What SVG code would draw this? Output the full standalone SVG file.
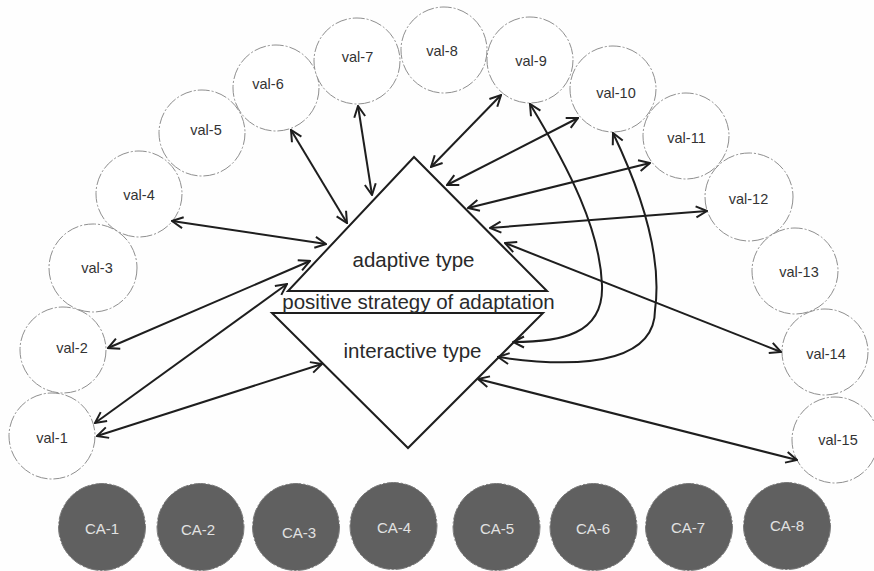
<svg xmlns="http://www.w3.org/2000/svg" width="874" height="571" viewBox="0 0 874 571">
  <style>
    .val circle { fill: #ffffff; stroke: #8f8f8f; stroke-width: 1; stroke-dasharray: 12 2 2 2; }
    .val text { font-family: "Liberation Sans", Arial, sans-serif; font-size: 14.5px; fill: #333333; text-anchor: middle; }
    .ca circle { fill: #606060; stroke: #7a7a7a; stroke-width: 1; stroke-dasharray: 12 2 2 2; }
    .ca text { font-family: "Liberation Sans", Arial, sans-serif; font-size: 15px; fill: #e2e2e2; text-anchor: middle; }
    .shape { fill: #ffffff; stroke: #1e1e1e; stroke-width: 2; stroke-linejoin: miter; }
    .core text { font-family: "Liberation Sans", Arial, sans-serif; font-size: 20.5px; fill: #2a2a2a; text-anchor: middle; }
    .link { fill: none; stroke: #1e1e1e; stroke-width: 2; marker-start: url(#tip); marker-end: url(#tip); }
  </style>
  <defs>
    <marker id="tip" viewBox="-13 -7 14 14" refX="0" refY="0" markerWidth="14" markerHeight="14" markerUnits="userSpaceOnUse" orient="auto-start-reverse">
      <path d="M-11,-5.5 L0,0 L-11,5.5" fill="none" stroke="#1e1e1e" stroke-width="2"/>
    </marker>
  </defs>

  <rect width="874" height="571" fill="#fefefe"/>

  <!-- value circles arranged in an arc -->
  <g id="val-1" class="val"><circle cx="52" cy="436" r="43"/><text x="52" y="443">val-1</text></g>
  <g id="val-2" class="val"><circle cx="63" cy="350" r="43"/><text x="72" y="352.5">val-2</text></g>
  <g id="val-3" class="val"><circle cx="93" cy="268" r="44"/><text x="97" y="273">val-3</text></g>
  <g id="val-4" class="val"><circle cx="139" cy="194" r="43"/><text x="139" y="199.5">val-4</text></g>
  <g id="val-5" class="val"><circle cx="202" cy="133" r="43"/><text x="206" y="134.5">val-5</text></g>
  <g id="val-6" class="val"><circle cx="276" cy="88" r="43"/><text x="268" y="88.5">val-6</text></g>
  <g id="val-7" class="val"><circle cx="357" cy="61" r="43"/><text x="357.5" y="61.5">val-7</text></g>
  <g id="val-8" class="val"><circle cx="444" cy="50" r="43"/><text x="442" y="55.5">val-8</text></g>
  <g id="val-9" class="val"><circle cx="530" cy="60" r="43"/><text x="531" y="66">val-9</text></g>
  <g id="val-10" class="val"><circle cx="613" cy="89" r="43"/><text x="616" y="98">val-10</text></g>
  <g id="val-11" class="val"><circle cx="686" cy="136" r="43"/><text x="686.5" y="142.5">val-11</text></g>
  <g id="val-12" class="val"><circle cx="749" cy="197" r="44"/><text x="748.5" y="203.5">val-12</text></g>
  <g id="val-13" class="val"><circle cx="795" cy="271" r="43"/><text x="799" y="276.5">val-13</text></g>
  <g id="val-14" class="val"><circle cx="825" cy="352" r="43"/><text x="826" y="358.5">val-14</text></g>
  <g id="val-15" class="val"><circle cx="835" cy="440" r="43"/><text x="838" y="444.5">val-15</text></g>

  <!-- central split diamond -->
  <g id="core" class="core">
    <polygon class="shape" points="414,157 547,291 288,291"/>
    <polygon class="shape" points="272,313 543,313 408,448"/>
    <text x="413.5" y="267">adaptive type</text>
    <text x="418.5" y="309">positive strategy of adaptation</text>
    <text x="412.5" y="358">interactive type</text>
  </g>

  <!-- connectors -->
  <g id="connectors">
    <line class="link" x1="172" y1="221" x2="326" y2="244"/>
    <line class="link" x1="291" y1="130" x2="347" y2="223"/>
    <line class="link" x1="358" y1="106" x2="372" y2="195"/>
    <line class="link" x1="501" y1="95" x2="431" y2="167"/>
    <line class="link" x1="578" y1="118" x2="447" y2="185"/>
    <line class="link" x1="650" y1="163" x2="468" y2="208"/>
    <line class="link" x1="707" y1="211" x2="490" y2="228"/>
    <line class="link" x1="781" y1="352" x2="505" y2="243"/>
    <line class="link" x1="797" y1="460" x2="478" y2="379"/>
    <line class="link" x1="108" y1="348" x2="310" y2="261"/>
    <line class="link" x1="95" y1="423" x2="287" y2="284"/>
    <line class="link" x1="97" y1="436" x2="322" y2="364"/>
    <path class="link" d="M530,104 C570,170 600,230 602,285 C604,335 560,342 513,342"/>
    <path class="link" d="M613,133 C645,200 662,260 655,310 C655,355 600,372 498,357"/>
  </g>

  <!-- CA row -->
  <g id="CA-1" class="ca"><circle cx="102" cy="527" r="43.5"/><text x="102" y="534">CA-1</text></g>
  <g id="CA-2" class="ca"><circle cx="200.5" cy="527" r="43.5"/><text x="198" y="535">CA-2</text></g>
  <g id="CA-3" class="ca"><circle cx="296" cy="527" r="43.5"/><text x="299" y="538">CA-3</text></g>
  <g id="CA-4" class="ca"><circle cx="393.5" cy="526" r="43.5"/><text x="394" y="533">CA-4</text></g>
  <g id="CA-5" class="ca"><circle cx="496.5" cy="527" r="43.5"/><text x="497" y="534">CA-5</text></g>
  <g id="CA-6" class="ca"><circle cx="593.5" cy="527" r="43.5"/><text x="593" y="534">CA-6</text></g>
  <g id="CA-7" class="ca"><circle cx="689" cy="527" r="43.5"/><text x="688" y="533">CA-7</text></g>
  <g id="CA-8" class="ca"><circle cx="787" cy="526" r="43.5"/><text x="787" y="531">CA-8</text></g>
</svg>
